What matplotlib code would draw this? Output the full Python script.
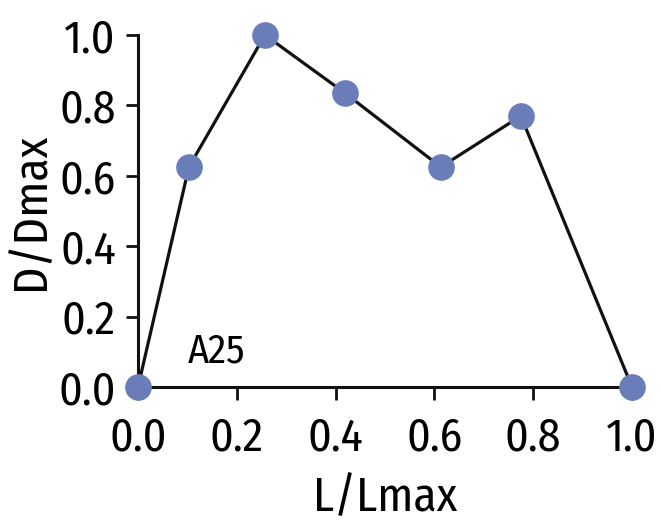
import matplotlib
matplotlib.use("Agg")
import matplotlib.pyplot as plt

l_ratio = [0.0, 0.103, 0.257, 0.419, 0.613, 0.775, 1.0]
d_ratio = [0.0, 0.625, 1.0, 0.835, 0.625, 0.77, 0.0]
ticks = [0.0, 0.2, 0.4, 0.6, 0.8, 1.0]
tick_labels = ["0.0", "0.2", "0.4", "0.6", "0.8", "1.0"]

plt.rcParams["font.family"] = ["Fira Sans Condensed", "DejaVu Sans"]

fig = plt.figure(figsize=(6.61, 5.25), dpi=100)
ax = fig.add_axes([138 / 661, 1 - 387 / 525, 494 / 661, 352 / 525])

ax.plot(l_ratio, d_ratio, color="#111111", lw=2.3, zorder=2)
ax.scatter(l_ratio, d_ratio, s=330, color="#6a7db8", zorder=3, clip_on=False)

ax.set_xlim(0, 1)
ax.set_ylim(0, 1)
ax.set_xticks(ticks)
ax.set_xticklabels(tick_labels)
ax.set_yticks(ticks)
ax.set_yticklabels(tick_labels)
ax.tick_params(labelsize=33, width=2, length=9, direction="out", color="#111111")
ax.tick_params(axis="x", pad=12)
ax.tick_params(axis="y", pad=7)
for side in ["top", "right"]:
    ax.spines[side].set_visible(False)
for side in ["left", "bottom"]:
    ax.spines[side].set_linewidth(2.2)
    ax.spines[side].set_color("#111111")

ax.set_xlabel("L/Lmax", fontsize=34, labelpad=10)
ax.set_ylabel("D/Dmax", fontsize=34, labelpad=3)
ax.text(0.1, 0.07, "A25", fontsize=29)

fig.savefig("out.png", dpi=100)
